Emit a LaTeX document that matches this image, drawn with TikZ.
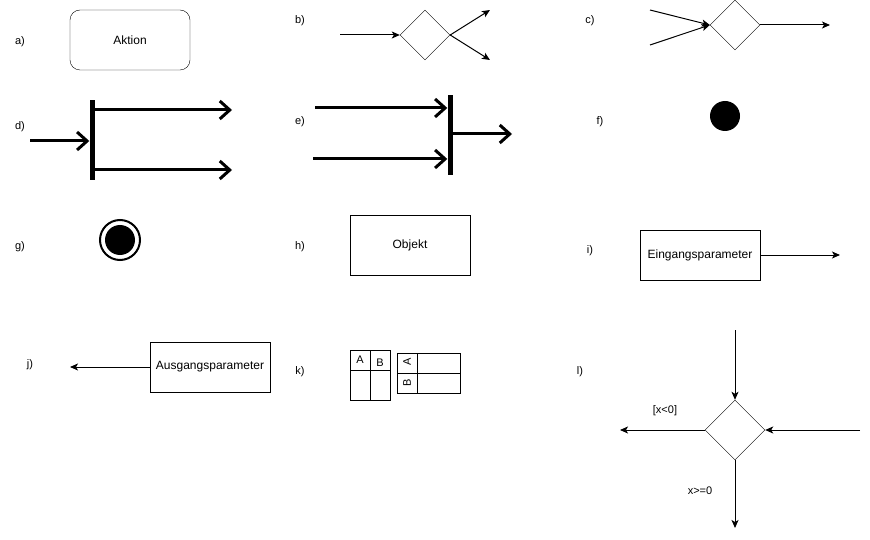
\documentclass[tikz,border=0pt]{standalone}
\usepackage{fontspec}
\setmainfont{Liberation Sans}
\usetikzlibrary{shapes.geometric,arrows.meta}
\begin{document}
\begin{tikzpicture}[x=1pt,y=-1pt,font=\fontsize{12}{14}\selectfont,
  lbl/.style={font=\fontsize{11}{13}\selectfont},
  box/.style={draw,minimum width=120pt,minimum height=60pt,inner sep=0pt},
  pbox/.style={draw,minimum width=120pt,minimum height=50pt,inner sep=0pt},
  dia/.style={draw,diamond,aspect=1,inner sep=0pt,minimum width=#1,minimum height=#1},
  cl/.style={-{Stealth[length=8pt,width=7pt,inset=2pt]},line width=1pt},
  thk/.style={-{Straight Barb[length=10pt,width=18pt]},line width=3pt},
  bar/.style={fill=black,inner sep=0pt,minimum width=5pt,minimum height=80pt},
  ktext/.style={font=\fontsize{11}{13}\selectfont,inner sep=0pt}]
\useasboundingbox (0,0) rectangle (870,540);

% a)
\node[lbl] (la) at (20,42) {a)};
\node[box,rounded corners=10pt] (aktion) at (130,40) {Aktion};

% b)
\node[lbl] (lb) at (300,21) {b)};
\node[dia=50pt] (db) at (425,35) {};
\coordinate (bin) at (340,35);
\coordinate (bo1) at (490,10);
\coordinate (bo2) at (490,60);
\draw[cl] (bin) -- (db.west);
\draw[cl] (db.east) -- (bo1);
\draw[cl] (db.east) -- (bo2);

% c)
\node[lbl] (lc) at (590,21) {c)};
\node[dia=50pt] (dc) at (735,25) {};
\coordinate (ci1) at (650,10);
\coordinate (ci2) at (650,45);
\coordinate (co) at (830,25);
\draw[cl] (ci1) -- (dc.west);
\draw[cl] (ci2) -- (dc.west);
\draw[cl] (dc.east) -- (co);

% d)
\node[lbl] (ld) at (20,127) {d)};
\node[bar] (bard) at (92,140) {};
\coordinate (din) at (30,141);
\coordinate (do1) at (232,110);
\coordinate (do2) at (232,170);
\draw[thk] (din) -- (bard.west |- din);
\draw[thk] (bard.east |- do1) -- (do1);
\draw[thk] (bard.east |- do2) -- (do2);

% e)
\node[lbl] (le) at (300,122) {e)};
\node[bar] (bare) at (450,135) {};
\coordinate (ei1) at (315,108);
\coordinate (ei2) at (313,159);
\coordinate (eo) at (512,134);
\draw[thk] (ei1) -- (bare.west |- ei1);
\draw[thk] (ei2) -- (bare.west |- ei2);
\draw[thk] (bare.east |- eo) -- (eo);

% f)
\node[lbl] (lf) at (600,122) {f)};
\node[circle,fill=black,minimum size=30pt,inner sep=0pt] (start) at (725,116) {};

% g)
\node[lbl] (lg) at (20,247) {g)};
\node[circle,draw,line width=2pt,minimum size=40pt,inner sep=0pt] (endo) at (120,240) {};
\node[circle,fill=black,minimum size=30pt,inner sep=0pt] (endi) at (120,240) {};

% h)
\node[lbl] (lh) at (300,247) {h)};
\node[box] (obj) at (410,245) {Objekt};

% i)
\node[lbl] (li) at (590,251) {i)};
\node[pbox] (ein) at (700,255) {Eingangsparameter};
\coordinate (io) at (840,255);
\draw[cl] (ein.east) -- (io);

% j)
\node[lbl] (lj) at (30,365) {j)};
\node[pbox] (aus) at (210,367) {Ausgangsparameter};
\coordinate (jo) at (70,367);
\draw[cl] (aus.west) -- (jo);

% k)
\node[lbl] (lk) at (300,372) {k)};
\draw[line width=1pt] (350,350) rectangle (390,400);
\draw[line width=1pt] (350,370) -- (390,370);
\draw[line width=1pt] (370,350) -- (370,400);
\node[ktext] (ka) at (360,360) {A};
\node[ktext] (kb) at (380,363) {B};
\draw[line width=1pt] (397,353) rectangle (460,393);
\draw[line width=1pt] (397,373) -- (460,373);
\draw[line width=1pt] (417,353) -- (417,393);
\node[ktext,rotate=90] (kra) at (407,362) {A};
\node[ktext,rotate=90] (krb) at (407,383) {B};

% l)
\node[lbl] (ll) at (580,372) {l)};
\node[dia=60pt] (dl) at (735,430) {};
\coordinate (lt) at (735,330);
\coordinate (lr) at (860,430);
\coordinate (lL) at (620,430);
\coordinate (lB) at (735,528);
\draw[cl] (lt) -- (dl.north);
\draw[cl] (lr) -- (dl.east);
\draw[cl] (dl.west) -- (lL);
\draw[cl] (dl.south) -- (lB);
\node[lbl] (gx1) at (665,411) {[x<0]};
\node[lbl] (gx2) at (700,491) {x>=0};
\end{tikzpicture}
\end{document}
